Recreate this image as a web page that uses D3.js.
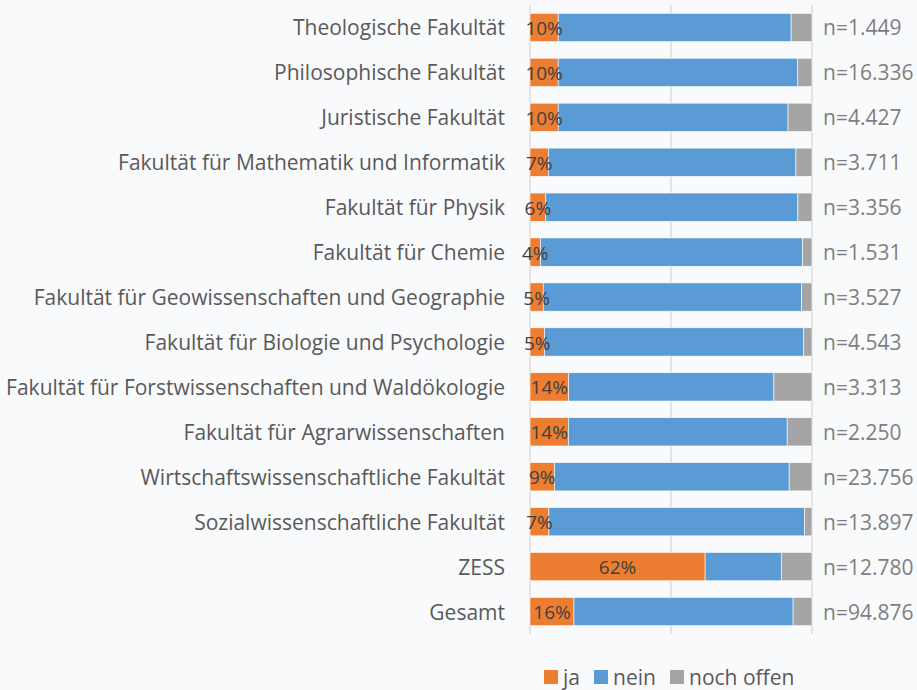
<!DOCTYPE html>
<html>
<head>
<meta charset="utf-8">
<script src="https://cdn.jsdelivr.net/npm/d3@7"></script>
<style>
  html, body { margin: 0; padding: 0; background: #f9fafc; }
  svg { display: block; font-family: "Open Sans", Lato, sans-serif; }
</style>
</head>
<body>
<script>
  var categories = [
    'Theologische Fakultät',
    'Philosophische Fakultät',
    'Juristische Fakultät',
    'Fakultät für Mathematik und Informatik',
    'Fakultät für Physik',
    'Fakultät für Chemie',
    'Fakultät für Geowissenschaften und Geographie',
    'Fakultät für Biologie und Psychologie',
    'Fakultät für Forstwissenschaften und Waldökologie',
    'Fakultät für Agrarwissenschaften',
    'Wirtschaftswissenschaftliche Fakultät',
    'Sozialwissenschaftliche Fakultät',
    'ZESS',
    'Gesamt'
  ];
  var ja        = [10.0, 10.0, 10.0, 6.5, 5.6, 3.7, 4.7, 5.1, 13.7, 13.6, 8.7, 6.7, 62.1, 15.6];
  var nein      = [82.6, 84.8, 81.5, 87.8, 89.4, 93.0, 91.6, 92.0, 72.8, 77.6, 83.2, 90.7, 27.0, 77.7];
  var nochOffen = [7.4, 5.2, 8.5, 5.7, 5.0, 3.3, 3.7, 2.9, 13.5, 8.8, 8.1, 2.6, 10.9, 6.7];
  var nLabels   = ['n=1.449', 'n=16.336', 'n=4.427', 'n=3.711', 'n=3.356', 'n=1.531', 'n=3.527',
                   'n=4.543', 'n=3.313', 'n=2.250', 'n=23.756', 'n=13.897', 'n=12.780', 'n=94.876'];
  var seriesNames = ['ja', 'nein', 'noch offen'];
  var xTicks = [0, 50, 100];

  var width = 917, height = 690;
  var colors = {'ja': '#ed7d31', 'nein': '#5b9bd5', 'noch offen': '#a5a5a5'};

  var rows = categories.map(function(c, i) {
    return {cat: c, 'ja': ja[i], 'nein': nein[i], 'noch offen': nochOffen[i], n: nLabels[i]};
  });

  var x = d3.scaleLinear().domain([0, 100]).range([530, 812]);
  var y = d3.scaleBand().domain(categories).range([5, 634])
    .paddingInner(0.37).paddingOuter(0.185);

  var svg = d3.select('body').append('svg')
    .attr('width', width)
    .attr('height', height);

  // grid
  svg.append('g').attr('class', 'grid')
    .selectAll('line').data(xTicks).join('line')
      .attr('x1', function(d) { return x(d); })
      .attr('x2', function(d) { return x(d); })
      .attr('y1', 5).attr('y2', 634)
      .attr('stroke', '#d9d9d9')
      .attr('stroke-width', 1.3);

  var stacked = d3.stack().keys(seriesNames)(rows);

  svg.append('g').selectAll('g').data(stacked).join('g')
      .attr('fill', function(d) { return colors[d.key]; })
    .selectAll('rect').data(function(d) { return d; }).join('rect')
      .attr('x', function(d) { return x(d[0]); })
      .attr('y', function(d) { return y(d.data.cat); })
      .attr('width', function(d) { return x(d[1]) - x(d[0]); })
      .attr('height', y.bandwidth())
      .attr('stroke', '#ffffff')
      .attr('stroke-width', 0.6);

  // ja labels
  svg.append('g').selectAll('text').data(stacked[0]).join('text')
      .attr('x', function(d) { return (x(d[0]) + x(d[1])) / 2; })
      .attr('y', function(d) { return y(d.data.cat) + y.bandwidth() / 2; })
      .attr('dy', '0.4em')
      .attr('text-anchor', 'middle')
      .attr('fill', '#404040')
      .style('font-size', '19px')
      .text(function(d) { return Math.round(d.data.ja) + '%'; });

  // category labels
  svg.append('g').selectAll('text').data(rows).join('text')
      .attr('x', 505)
      .attr('y', function(d) { return y(d.cat) + y.bandwidth() / 2; })
      .attr('dy', '0.38em')
      .attr('text-anchor', 'end')
      .attr('fill', '#595959')
      .style('font-size', '21px')
      .text(function(d) { return d.cat; });

  // n labels
  svg.append('g').selectAll('text').data(rows).join('text')
      .attr('x', 823)
      .attr('y', function(d) { return y(d.cat) + y.bandwidth() / 2; })
      .attr('dy', '0.38em')
      .attr('fill', '#7f7f7f')
      .style('font-size', '21px')
      .text(function(d) { return d.n; });

  // legend
  var legendX = [544, 594, 670];
  var legend = svg.append('g').selectAll('g').data(seriesNames).join('g')
      .attr('transform', function(d, i) { return 'translate(' + legendX[i] + ',670)'; });
  legend.append('rect')
      .attr('width', 14).attr('height', 14)
      .attr('fill', function(d) { return colors[d]; });
  legend.append('text')
      .attr('x', 19).attr('y', 7).attr('dy', '0.36em')
      .attr('fill', '#595959')
      .style('font-size', '21px')
      .text(function(d) { return d; });
</script>
</body>
</html>
